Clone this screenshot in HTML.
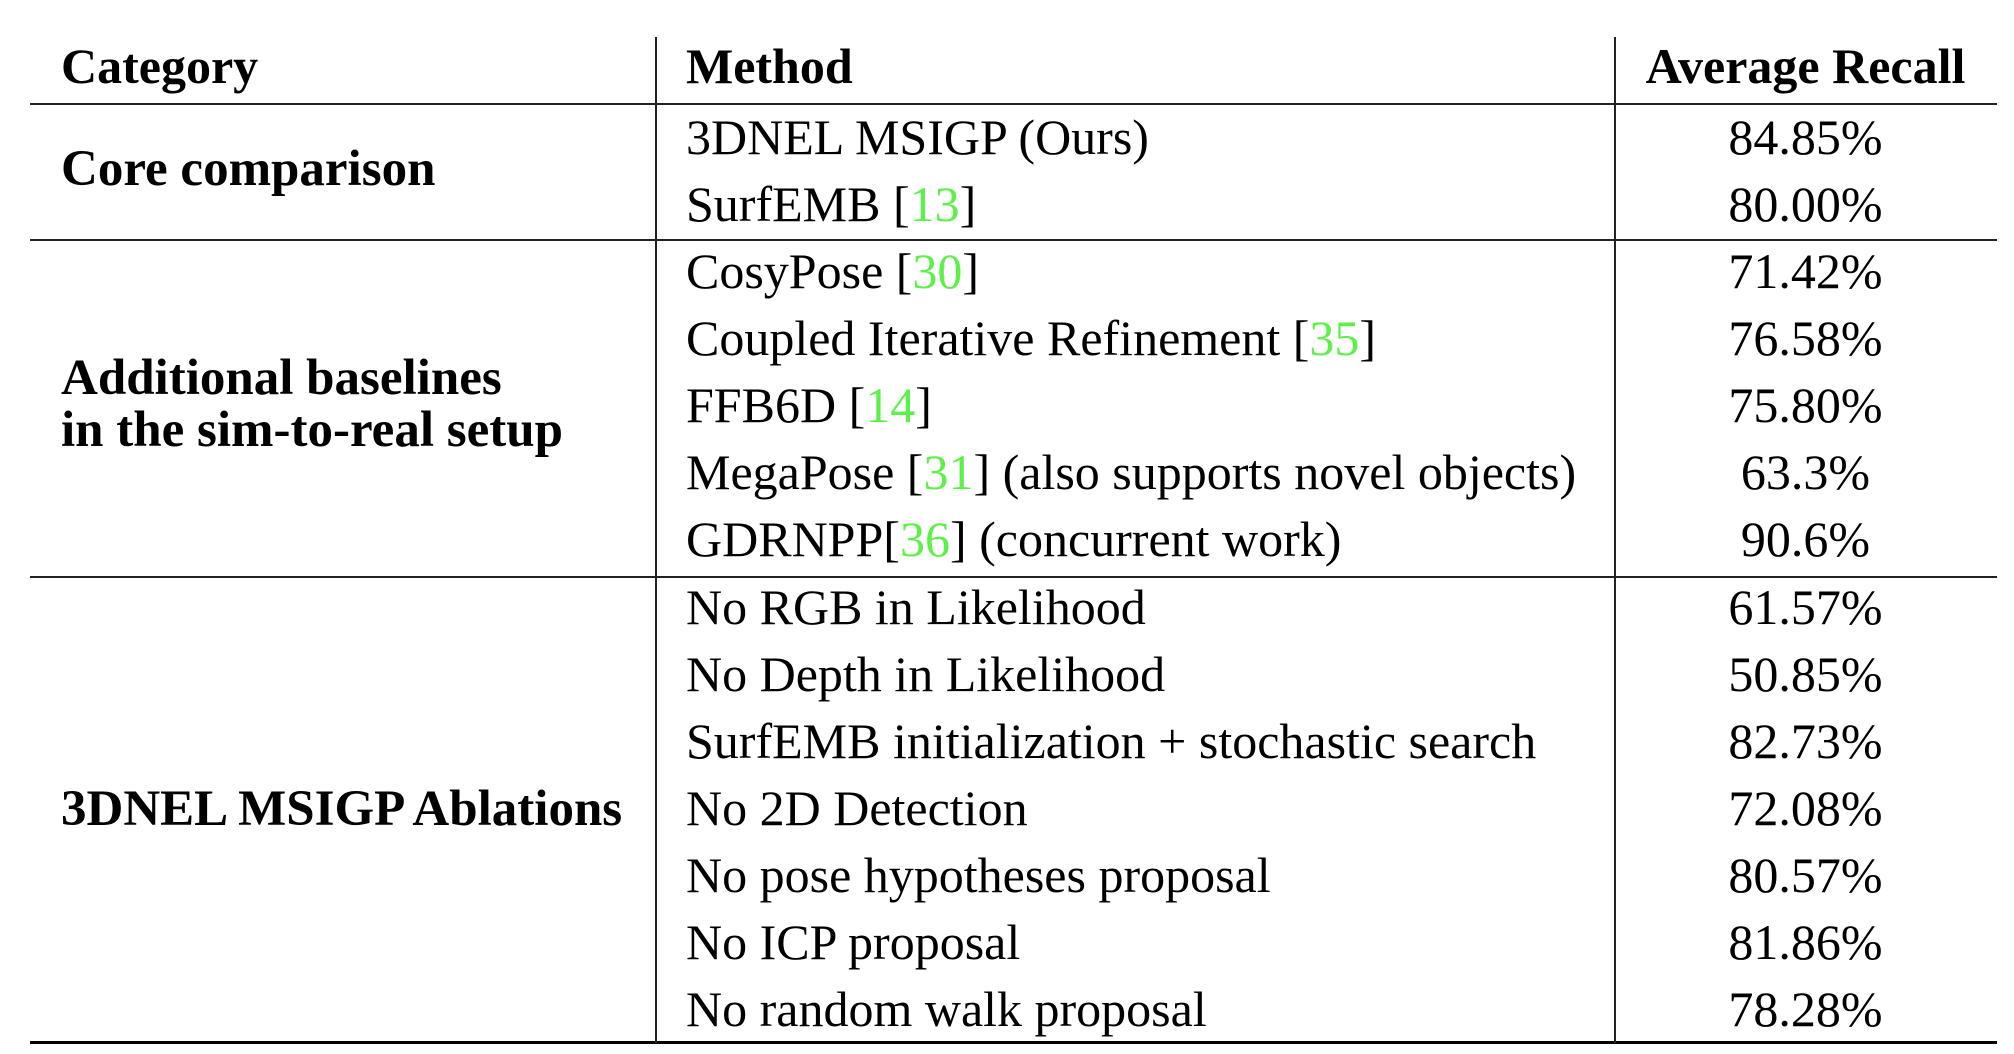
<!DOCTYPE html>
<html><head><meta charset="utf-8">
<style>
html,body{margin:0;padding:0;background:#fff;}
#t{position:relative;width:2014px;height:1054px;overflow:hidden;font-family:"Liberation Serif","Times New Roman",serif;color:#000;}
.h{position:absolute;font-weight:bold;font-size:50px;line-height:1;white-space:nowrap;}
.c{position:absolute;font-weight:bold;font-size:51px;line-height:1;white-space:nowrap;}
.m{position:absolute;font-size:50px;line-height:1;white-space:nowrap;}
.v{position:absolute;font-size:50px;line-height:1;white-space:nowrap;text-align:center;width:383px;left:1614px;}
.r{color:#5ef04a;}
.hr{position:absolute;background:#222;}
</style></head>
<body>
<div id="t">
<div class="hr" style="left:30px;width:1967px;top:103px;height:2px"></div>
<div class="hr" style="left:30px;width:1967px;top:239px;height:2px"></div>
<div class="hr" style="left:30px;width:1967px;top:576px;height:2px"></div>
<div class="hr" style="left:30px;width:1967px;top:1041px;height:3px;background:#000"></div>
<div class="hr" style="left:655px;width:2px;top:37px;height:1006px"></div>
<div class="hr" style="left:1614px;width:2px;top:37px;height:1006px"></div>

<div class="h" style="left:61px;top:41px">Category</div>
<div class="h" style="left:686px;top:41px">Method</div>
<div class="h" style="left:1614px;width:383px;text-align:center;top:41px">Average Recall</div>

<div class="c" style="left:61px;top:144px">Core comparison</div>
<div class="c" style="left:61px;top:352px;line-height:52px">Additional baselines<br>in the sim-to-real setup</div>
<div class="c" style="left:61px;top:784px">3DNEL MSIGP Ablations</div>

<div id="rows"></div>
</div>
<script>
const methods = ["3DNEL MSIGP (Ours)","SurfEMB [13]","CosyPose [30]","Coupled Iterative Refinement [35]","FFB6D [14]","MegaPose [31] (also supports novel objects)","GDRNPP[36] (concurrent work)","No RGB in Likelihood","No Depth in Likelihood","SurfEMB initialization + stochastic search","No 2D Detection","No pose hypotheses proposal","No ICP proposal","No random walk proposal"];
const recalls = ["84.85%","80.00%","71.42%","76.58%","75.80%","63.3%","90.6%","61.57%","50.85%","82.73%","72.08%","80.57%","81.86%","78.28%"];
const t = document.getElementById('t');
for (let i = 0; i < methods.length; i++) {
  const base = 156 + 67.08 * i;
  const m = document.createElement('div');
  m.className = 'm';
  
  
  m.style.left = '686px';
  m.style.top = (base - 44) + 'px';
  m.innerHTML = methods[i].replace(/\[(\d+)\]/, '[<span class="r">$1</span>]');
  t.appendChild(m);
  const v = document.createElement('div');
  v.className = 'v';
  
  
  v.style.top = (base - 44) + 'px';
  v.textContent = recalls[i];
  t.appendChild(v);
}
</script>
</body></html>
